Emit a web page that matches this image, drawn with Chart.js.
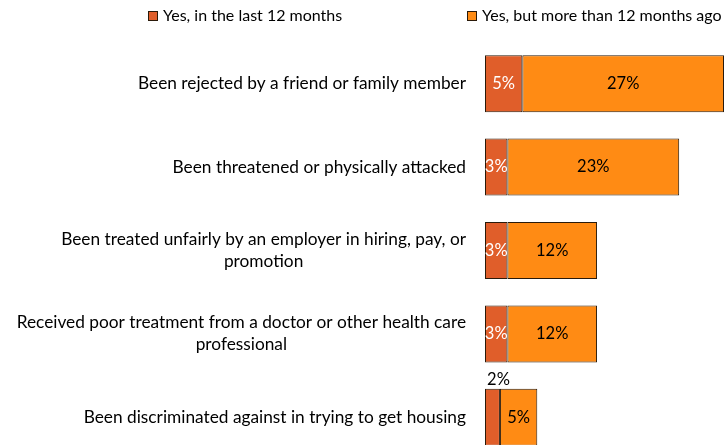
<!DOCTYPE html>
<html>
<head>
<meta charset="utf-8">
<script src="https://cdn.jsdelivr.net/npm/chart.js@4.4.1/dist/chart.umd.min.js"></script>
<style>
  html, body { margin: 0; padding: 0; background: #fff; overflow: hidden; }
  #wrap { width: 724px; height: 460px; position: relative; }
</style>
</head>
<body>
<div id="wrap"><canvas id="chart"></canvas></div>
<script>
// categories (multi-line ones as arrays)
const categories = [
    ['Been rejected by a friend or family member'],
    ['Been threatened or physically attacked'],
    ['Been treated unfairly by an employer in hiring, pay, or', 'promotion'],
    ['Received poor treatment from a doctor or other health care', 'professional'],
    ['Been discriminated against in trying to get housing']
];
const seriesNames = ['Yes, in the last 12 months', 'Yes, but more than 12 months ago'];
const last12 = [5, 3, 3, 3, 2];
const before12 = [27, 23, 12, 12, 5];
const colors = ['#E05E2A', '#FF8B14'];

const FONT = 'Lato, "Open Sans", sans-serif';

// y labels: right edge fixed, lines centred on each other
const labelPlugin = {
    id: 'catLabels',
    afterDraw(chart) {
        const ctx = chart.ctx;
        const y = chart.scales.y;
        const right = 466;
        ctx.save();
        ctx.font = '17.3px ' + FONT;
        ctx.fillStyle = '#000';
        ctx.textAlign = 'center';
        ctx.textBaseline = 'middle';
        categories.forEach((lines, i) => {
            const w = Math.max(...lines.map(l => ctx.measureText(l).width));
            const cx = right - w / 2;
            const cy = y.getPixelForValue(i);
            const lh = 22;
            lines.forEach((l, k) => {
                ctx.fillText(l, cx, cy + (k - (lines.length - 1) / 2) * lh);
            });
        });
        ctx.restore();
    }
};

// values inside segments, tiny ones above the bar
const valuePlugin = {
    id: 'values',
    afterDatasetsDraw(chart) {
        const ctx = chart.ctx;
        ctx.save();
        ctx.font = '16.5px ' + FONT;
        ctx.textAlign = 'center';
        ctx.textBaseline = 'middle';
        chart.data.datasets.forEach((ds, di) => {
            chart.getDatasetMeta(di).data.forEach((bar, i) => {
                const txt = ds.data[i] + '%';
                const segW = Math.abs(bar.x - bar.base);
                const cx = (bar.x + bar.base) / 2;
                if (segW < 18) {
                    ctx.fillStyle = '#000';
                    ctx.fillText(txt, cx + 6, bar.y - bar.height / 2 - 9);
                } else {
                    ctx.fillStyle = di === 0 ? '#fff' : '#000';
                    ctx.fillText(txt, cx, bar.y);
                }
            });
        });
        ctx.restore();
    }
};

// legend drawn by hand so the two items sit where they do in the source
const legendPlugin = {
    id: 'manualLegend',
    afterDraw(chart) {
        const ctx = chart.ctx;
        const xs = [148, 467];
        ctx.save();
        ctx.font = '16px ' + FONT;
        ctx.textBaseline = 'middle';
        chart.data.datasets.forEach((ds, i) => {
            ctx.fillStyle = ds.backgroundColor;
            ctx.fillRect(xs[i], 11, 10, 10);
            ctx.strokeStyle = '#2a1a0a';
            ctx.lineWidth = 1;
            ctx.strokeRect(xs[i] + 0.5, 11.5, 9, 9);
            ctx.fillStyle = '#000';
            ctx.textAlign = 'left';
            ctx.fillText(ds.label, xs[i] + 15, 16);
        });
        ctx.restore();
    }
};

new Chart(document.getElementById('chart'), {
    type: 'bar',
    data: {
        labels: categories,
        datasets: [
            { label: seriesNames[0], data: last12, backgroundColor: colors[0] },
            { label: seriesNames[1], data: before12, backgroundColor: colors[1] }
        ]
    },
    options: {
        indexAxis: 'y',
        responsive: true,
        maintainAspectRatio: false,
        animation: false,
        datasets: {
            bar: {
                borderColor: '#2a1a0a',
                borderWidth: 1,
                borderSkipped: false,
                barPercentage: 0.684,
                categoryPercentage: 1
            }
        },
        layout: { padding: { left: 485, top: 42, right: 0, bottom: 1 } },
        scales: {
            x: { stacked: true, min: 0, max: 32, display: false },
            y: { stacked: true, display: false }
        },
        plugins: {
            legend: { display: false },
            tooltip: { enabled: false }
        }
    },
    plugins: [labelPlugin, valuePlugin, legendPlugin]
});
</script>
</body>
</html>
